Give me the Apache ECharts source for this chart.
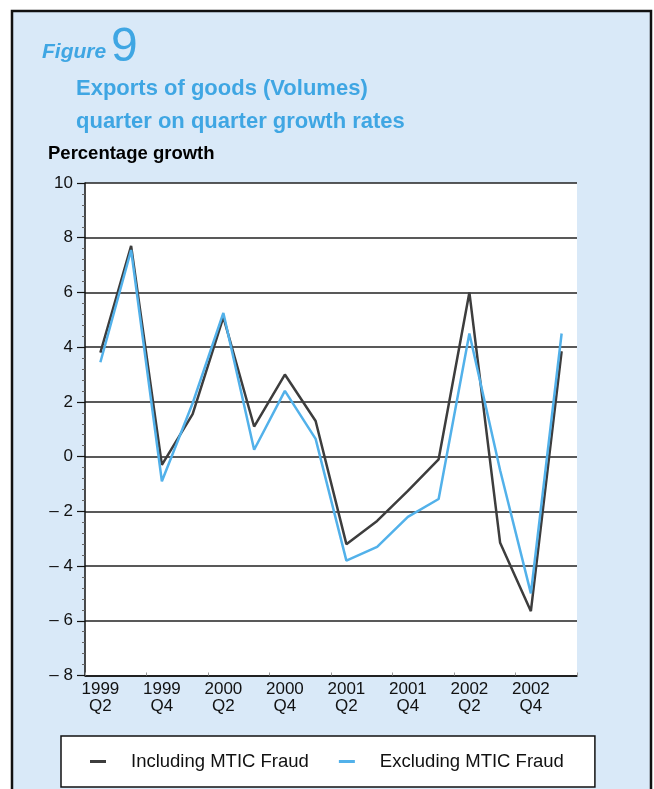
<!DOCTYPE html>
<html>
<head>
<meta charset="utf-8">
<script src="https://cdn.jsdelivr.net/npm/echarts@6/dist/echarts.min.js"></script>
<style>
html,body{margin:0;padding:0;background:#fff;}
#chart{width:654px;height:789px;}
</style>
</head>
<body>
<div id="chart"></div>
<script>
var categories = ['1999 Q2','1999 Q3','1999 Q4','2000 Q1','2000 Q2','2000 Q3','2000 Q4','2001 Q1',
                  '2001 Q2','2001 Q3','2001 Q4','2002 Q1','2002 Q2','2002 Q3','2002 Q4','2003 Q1'];
var includingMTIC = [3.8, 7.7, -0.3, 1.55, 5.1, 1.1, 3.0, 1.3, -3.2, -2.35, -1.25, -0.1, 6.0, -3.15, -5.65, 3.85];
var excludingMTIC = [3.45, 7.55, -0.9, 1.95, 5.25, 0.25, 2.4, 0.65, -3.8, -3.3, -2.2, -1.55, 4.5, -0.5, -5.0, 4.5];
var seriesNames = ['Including MTIC Fraud', 'Excluding MTIC Fraud'];
var titleLines = ['Exports of goods (Volumes)', 'quarter on quarter growth rates'];
var yAxisTitle = 'Percentage growth';

var BLUE_TEXT = '#3fa6e3';
var FONT = 'Liberation Sans, Arial, sans-serif';

var chart = echarts.init(document.getElementById('chart'), null, {renderer: 'canvas'});
chart.setOption({
  backgroundColor: '#ffffff',
  animation: false,
  graphic: [
    {type: 'rect', z: -10, shape: {x: 12, y: 11, width: 639, height: 800},
     style: {fill: '#d9e9f8', stroke: '#111', lineWidth: 2.5}}
  ],
  title: [
    {text: 'Figure', left: 37, top: 37, padding: 5, textStyle: {color: BLUE_TEXT, fontFamily: FONT, fontStyle: 'italic', fontWeight: 'bold', fontSize: 21}},
    {text: '9', left: 106, top: 19, padding: 5, textStyle: {color: BLUE_TEXT, fontFamily: FONT, fontWeight: 'normal', fontSize: 48}},
    {text: titleLines[0], left: 71, top: 73, padding: 5, textStyle: {color: BLUE_TEXT, fontFamily: FONT, fontWeight: 'bold', fontSize: 22}},
    {text: titleLines[1], left: 71, top: 106, padding: 5, textStyle: {color: BLUE_TEXT, fontFamily: FONT, fontWeight: 'bold', fontSize: 22}},
    {text: yAxisTitle, left: 43, top: 139, padding: 5, textStyle: {color: '#000', fontFamily: FONT, fontWeight: 'bold', fontSize: 18.5}}
  ],
  legend: {
    left: 61, top: 736,
    orient: 'horizontal',
    backgroundColor: '#fff', borderColor: '#111', borderWidth: 1.5, borderRadius: 0,
    padding: [16, 31, 16, 29],
    itemGap: 30, itemWidth: 16, itemHeight: 3,
    icon: 'rect',
    textStyle: {fontFamily: FONT, fontSize: 18.5, color: '#111', padding: [0, 0, 0, 20]},
    data: seriesNames
  },
  grid: {left: 85, right: 77, top: 183, bottom: 113.5, show: true, backgroundColor: '#fff', borderWidth: 0},
  xAxis: {
    type: 'category', data: categories, boundaryGap: true,
    axisLine: {show: true, onZero: false, lineStyle: {color: '#111', width: 1.5}},
    axisTick: {show: true, interval: 1, inside: true, length: 3, lineStyle: {color: '#999'}},
    axisLabel: {interval: 1, margin: 5, color: '#111', fontFamily: FONT, fontSize: 17, lineHeight: 17,
      formatter: function (v) { return v.replace(' ', '\n'); }},
    splitLine: {show: false}
  },
  yAxis: {
    type: 'value', min: -8, max: 10, interval: 2,
    axisLine: {show: true, lineStyle: {color: '#111', width: 1.5}},
    axisTick: {show: true, length: 8, lineStyle: {color: '#111', width: 1.2}},
    minorTick: {show: true, splitNumber: 5, length: 3, lineStyle: {color: '#666'}},
    axisLabel: {margin: 12, color: '#111', fontFamily: FONT, fontSize: 17,
      formatter: function (v) { return v < 0 ? '\u2013 ' + Math.abs(v) : String(v); }},
    splitLine: {show: true, lineStyle: {color: '#222', width: 1.5}}
  },
  series: [
    {name: seriesNames[0], type: 'line', data: includingMTIC, showSymbol: false, symbol: 'none',
     itemStyle: {color: '#3d3d3d'}, lineStyle: {color: '#3d3d3d', width: 2.5}, z: 3},
    {name: seriesNames[1], type: 'line', data: excludingMTIC, showSymbol: false, symbol: 'none',
     itemStyle: {color: '#52b1ea'}, lineStyle: {color: '#52b1ea', width: 2.5}, z: 4}
  ]
});
</script>
</body>
</html>
